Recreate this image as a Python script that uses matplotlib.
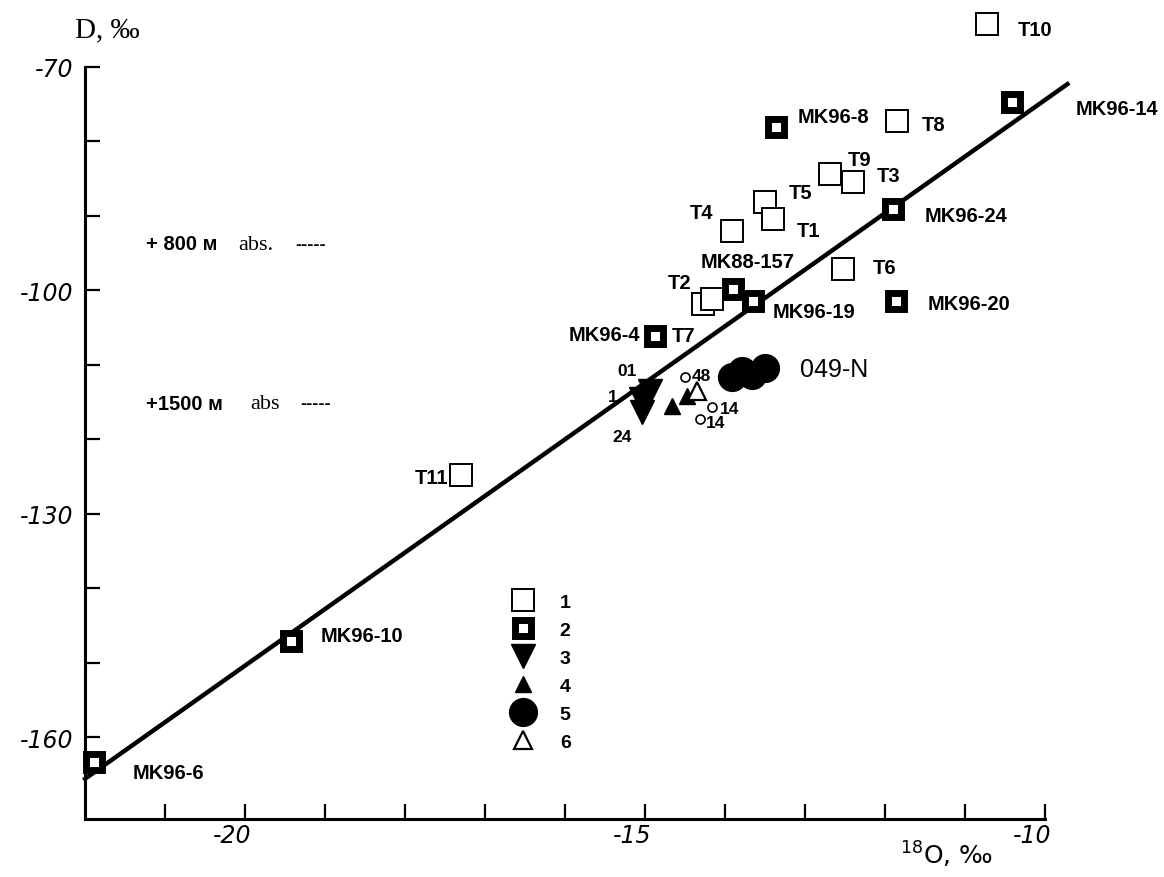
import matplotlib
matplotlib.use("Agg")
import matplotlib.pyplot as plt
import matplotlib.transforms as mtransforms
from matplotlib.ticker import FixedLocator

# --- data (delta18O, deltaD, permil) ---
# 1: open squares
t_names = ["T10", "T8", "T9", "T3", "T5", "T1", "T4", "T6", "T2", "T2b", "T11"]
t_x = [-10.72, -11.85, -12.69, -12.40, -13.50, -13.40, -13.91, -12.52, -14.27, -14.16, -17.30]
t_y = [-64.2, -77.3, -84.4, -85.5, -88.1, -90.4, -92.0, -97.1, -101.8, -101.2, -124.8]

# 2: bold squares
mk_names = ["MK96-14", "MK96-8", "MK96-24", "MK88-157", "MK96-19", "MK96-20", "MK96-4", "MK96-10", "MK96-6"]
mk_x = [-10.41, -13.36, -11.90, -13.90, -13.65, -11.86, -14.875, -19.42, -21.89]
mk_y = [-74.7, -78.1, -89.1, -99.8, -101.4, -101.4, -106.1, -147.1, -163.4]

# 3: filled down triangles
s3_x = [-14.94, -15.05, -15.04]
s3_y = [-113.5, -114.6, -116.3]
# 4: filled up triangles
s4_x = [-14.66, -14.47]
s4_y = [-115.5, -114.2]
# 5: filled circles (049-N)
s5_x = [-13.91, -13.79, -13.66, -13.50]
s5_y = [-111.6, -110.8, -111.4, -110.4]
# 6: open up triangle
s6_x = [-14.35]
s6_y = [-113.5]
# small open circles
sc_x = [-14.50, -14.16, -14.31]
sc_y = [-111.6, -115.7, -117.3]

# regression line endpoints
line_x = [-22.0, -9.72]
line_y = [-165.6, -72.3]

# label positions (text anchors) : (text, x, y, ha)
labels = [
    ("T10", -10.34, -64.9, "left"), ("MK96-14", -9.62, -75.6, "left"),
    ("MK96-8", -13.09, -76.6, "left"), ("T8", -11.54, -77.7, "left"),
    ("T9", -12.47, -82.4, "left"), ("T3", -12.10, -84.6, "left"),
    ("T5", -13.20, -86.9, "left"), ("T1", -13.10, -91.9, "left"),
    ("T4", -14.44, -89.6, "left"), ("MK96-24", -11.51, -90.0, "left"),
    ("T6", -12.15, -96.9, "left"), ("MK88-157", -14.31, -96.1, "left"),
    ("T2", -14.72, -98.9, "left"), ("MK96-19", -13.40, -102.9, "left"),
    ("MK96-20", -11.47, -101.8, "left"), ("MK96-4", -15.06, -105.9, "right"),
    ("T7", -14.66, -106.0, "left"), ("T11", -17.46, -125.1, "right"),
    ("MK96-10", -19.06, -146.4, "left"), ("MK96-6", -21.40, -164.7, "left"),
]
small_labels = [
    ("01", -15.35, -110.8), ("1", -15.47, -114.3), ("24", -15.41, -119.6),
    ("48", -14.41, -111.5), ("14", -14.06, -115.9), ("14", -14.24, -117.7),
]

BOLD = "Liberation Sans"

fig = plt.figure(figsize=(11.64, 8.78), dpi=100)
ax = fig.add_axes([85 / 1164, 1 - 820 / 878, 960 / 1164, 752 / 878])

ax.plot(line_x, line_y, color="black", lw=3.2, clip_on=False, zorder=2)

ax.plot(t_x, t_y, ls="none", marker="s", ms=16, mfc="white", mec="black",
        mew=1.4, clip_on=False, zorder=3, label="1")
ax.plot(mk_x, mk_y, ls="none", marker="s", ms=12, mfc="white", mec="black",
        mew=5, clip_on=False, zorder=4, label="2")
ax.plot(s3_x, s3_y, ls="none", marker="v", ms=17, color="black", zorder=4, label="3")
ax.plot(s4_x, s4_y, ls="none", marker="^", ms=12, color="black", zorder=4, label="4")
ax.plot(s5_x, s5_y, ls="none", marker="o", ms=20, color="black", zorder=4, label="5")
ax.plot(s6_x, s6_y, ls="none", marker="^", ms=13, mfc="white", mec="black",
        mew=1.6, zorder=5, label="6")
ax.plot(sc_x, sc_y, ls="none", marker="o", ms=6.5, mfc="white", mec="black",
        mew=1.2, zorder=5)

for txt, x, y, ha in labels:
    ax.text(x, y, txt, ha=ha, va="center", fontsize=14.5, fontweight="bold",
            family=BOLD, clip_on=False)
for txt, x, y in small_labels:
    ax.text(x, y, txt, ha="left", va="center", fontsize=12.5, fontweight="bold",
            family=BOLD)
ax.text(-13.06, -110.6, "049-N", ha="left", va="center", fontsize=18, family=BOLD)

ax.set_xlim(-22, -10)
ax.set_ylim(-171, -70)

for s in ("top", "right"):
    ax.spines[s].set_visible(False)
for s in ("left", "bottom"):
    ax.spines[s].set_linewidth(2.2)

ax.xaxis.set_major_locator(FixedLocator([-20, -15, -10]))
ax.xaxis.set_minor_locator(FixedLocator([-21, -19, -18, -17, -16, -14, -13, -12, -11]))
ax.yaxis.set_major_locator(FixedLocator([-70, -100, -130, -160]))
ax.yaxis.set_minor_locator(FixedLocator([-80, -90, -110, -120, -140, -150]))
ax.set_xticklabels(["-20", "-15", "-10"])
ax.set_yticklabels(["-70", "-100", "-130", "-160"])
ax.tick_params(which="both", direction="in", length=11, width=1.6)
ax.tick_params(axis="x", pad=3)
ax.tick_params(axis="y", pad=8)
for lbl in ax.get_xticklabels() + ax.get_yticklabels():
    lbl.set_fontsize(17)
    lbl.set_fontstyle("italic")
    lbl.set_family("DejaVu Sans")
shift = mtransforms.ScaledTranslation(-13 / 100, 0, fig.dpi_scale_trans)
for lbl in ax.get_xticklabels():
    lbl.set_transform(lbl.get_transform() + shift)

leg = ax.legend(loc="upper left", bbox_to_anchor=(0.444, 0.300), frameon=False,
                numpoints=1, handlelength=1.2, handletextpad=1.3,
                labelspacing=0.53, borderpad=0, borderaxespad=0,
                prop={"family": BOLD, "weight": "bold", "size": 14})

# axis titles
fig.text(75 / 1164, 1 - 30 / 878, "D, ‰", fontsize=21, family="Liberation Serif",
         va="center", ha="left")
fig.text(900 / 1164, 1 - 855 / 878, r"$^{18}$O, ‰", fontsize=18, family="DejaVu Sans",
         va="center", ha="left")

# altitude notes
fig.text(146 / 1164, 1 - 245 / 878, "+ 800 м", fontsize=14.5, fontweight="bold",
         family=BOLD, va="center")
fig.text(238 / 1164, 1 - 245 / 878, "abs.", fontsize=16, family="Liberation Serif",
         va="center")
fig.text(295 / 1164, 1 - 245 / 878, "-----", fontsize=13, fontweight="bold",
         family=BOLD, va="center")
fig.text(146 / 1164, 1 - 405 / 878, "+1500 м", fontsize=14.5, fontweight="bold",
         family=BOLD, va="center")
fig.text(250 / 1164, 1 - 405 / 878, "abs", fontsize=16, family="Liberation Serif",
         va="center")
fig.text(300 / 1164, 1 - 405 / 878, "-----", fontsize=13, fontweight="bold",
         family=BOLD, va="center")

fig.savefig("out.png", dpi=100)
